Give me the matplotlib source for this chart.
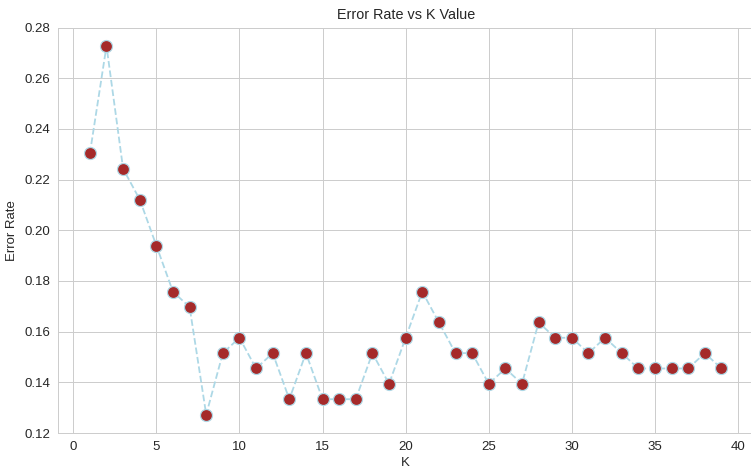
import matplotlib
matplotlib.use("Agg")
import matplotlib.pyplot as plt
import seaborn as sns

k_values = list(range(1, 40))
error_rate = [38, 45, 37, 35, 32, 29, 28, 21, 25, 26,
              24, 25, 22, 25, 22, 22, 22, 25, 23, 26,
              29, 27, 25, 25, 23, 24, 23, 27, 26, 26,
              25, 26, 25, 24, 24, 24, 24, 25, 24]
error_rate = [v / 165 for v in error_rate]

sns.set_style("whitegrid")
plt.rcParams['font.family'] = ['Liberation Sans', 'DejaVu Sans']

dpi = 86.4
fig = plt.figure(figsize=(752 / dpi, 469 / dpi), dpi=dpi)
ax = fig.add_axes([58.3 / 752, 36 / 469, (753 - 58.3) / 752, (433 - 27.5) / 469])
ax.plot(k_values, error_rate, color='lightblue', linestyle='dashed', linewidth=1.5,
        marker='o', markerfacecolor='brown', markeredgecolor='lightblue',
        markeredgewidth=1.0, markersize=10)
ax.set_title('Error Rate vs K Value', fontsize=12, color='.15', pad=7)
ax.set_xlabel('K', fontsize=11, color='.15', labelpad=3)
ax.set_ylabel('Error Rate', fontsize=11, color='.15', labelpad=5)
ax.tick_params(labelsize=11, colors='.15')
ax.set_xticks([0, 5, 10, 15, 20, 25, 30, 35, 40])
ax.set_ylim(0.12, 0.28)
fig.savefig('out.png', dpi=dpi)
